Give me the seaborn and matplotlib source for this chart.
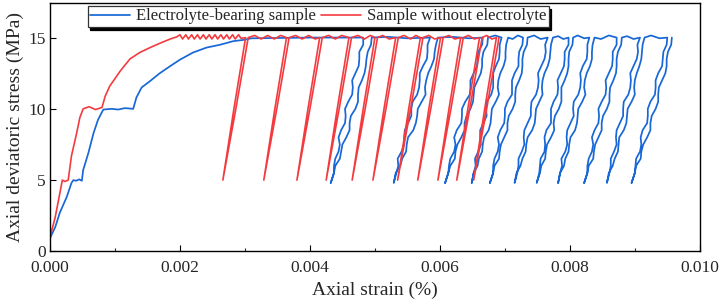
import matplotlib
matplotlib.use("Agg")
import matplotlib.pyplot as plt
import numpy as np
import pandas as pd
import seaborn as sns

sns.set_theme(style="ticks")
plt.rcParams['font.family'] = ['Liberation Serif', 'DejaVu Serif']

# strain values are written in units of 1e-3 % (converted when plotted)
STRAIN_UNIT = 1e-3

# ---- electrolyte-bearing sample (blue) ----
blue_load_x = [0.00, 0.08, 0.15, 0.26, 0.33, 0.36, 0.40, 0.45, 0.49, 0.51, 0.59, 0.67, 0.74, 0.82,
               0.95, 1.05, 1.15, 1.28, 1.33, 1.41, 1.54, 1.69, 1.85, 2.00, 2.20, 2.41, 2.62, 2.82,
               3.00, 3.10, 4.00]
blue_load_y = [0.92, 1.70, 2.70, 3.85, 4.80, 5.00, 4.95, 5.05, 4.95, 5.70, 6.90, 8.30, 9.25, 9.95,
               10.00, 9.95, 10.05, 10.00, 10.80, 11.50, 11.95, 12.50, 13.00, 13.45, 13.95, 14.30, 14.50, 14.75,
               14.85, 14.95, 15.00]

# stress levels of the unload branch (15 -> 5); the reload branch runs back up
blue_levels = [15, 14.5, 14, 13.5, 13, 12.5, 12, 11.5, 11, 10.5, 10,
               9.5, 9, 8.5, 8, 7.5, 7, 6.5, 6, 5.5, 4.8]
blue_unload = [
    [4.82, 4.82, 4.76, 4.76, 4.75, 4.70, 4.65, 4.66, 4.65, 4.59, 4.54, 4.55, 4.54, 4.48, 4.44, 4.46, 4.44, 4.39, 4.37, 4.37, 4.32],
    [5.85, 5.81, 5.81, 5.80, 5.74, 5.69, 5.69, 5.68, 5.65, 5.58, 5.56, 5.56, 5.51, 5.46, 5.45, 5.45, 5.41, 5.35, 5.36, 5.33, 5.29],
    [6.66, 6.65, 6.59, 6.58, 6.57, 6.52, 6.47, 6.47, 6.46, 6.39, 6.34, 6.34, 6.33, 6.26, 6.22, 6.24, 6.22, 6.16, 6.14, 6.13, 6.08],
    [6.95, 6.92, 6.92, 6.91, 6.86, 6.82, 6.82, 6.82, 6.79, 6.72, 6.71, 6.72, 6.67, 6.62, 6.62, 6.63, 6.59, 6.54, 6.55, 6.52, 6.49],
    [7.28, 7.27, 7.22, 7.21, 7.21, 7.15, 7.11, 7.11, 7.11, 7.04, 7.00, 7.00, 6.99, 6.93, 6.89, 6.91, 6.89, 6.84, 6.82, 6.82, 6.77],
    [7.66, 7.62, 7.63, 7.61, 7.56, 7.51, 7.52, 7.51, 7.48, 7.41, 7.40, 7.40, 7.35, 7.30, 7.29, 7.30, 7.26, 7.21, 7.21, 7.19, 7.15],
    [7.98, 7.98, 7.92, 7.92, 7.91, 7.86, 7.81, 7.82, 7.81, 7.75, 7.71, 7.71, 7.71, 7.64, 7.61, 7.62, 7.61, 7.55, 7.54, 7.53, 7.49],
    [8.30, 8.27, 8.27, 8.26, 8.20, 8.16, 8.17, 8.16, 8.13, 8.06, 8.05, 8.06, 8.01, 7.96, 7.95, 7.96, 7.93, 7.87, 7.88, 7.85, 7.82],
    [8.72, 8.72, 8.66, 8.66, 8.65, 8.60, 8.55, 8.56, 8.55, 8.49, 8.44, 8.45, 8.44, 8.38, 8.34, 8.36, 8.34, 8.29, 8.27, 8.27, 8.22],
    [9.08, 9.04, 9.05, 9.03, 8.98, 8.93, 8.94, 8.93, 8.90, 8.83, 8.82, 8.82, 8.77, 8.72, 8.71, 8.72, 8.68, 8.63, 8.63, 8.61, 8.57],
    [9.50, 9.49, 9.44, 9.43, 9.42, 9.36, 9.32, 9.32, 9.31, 9.24, 9.20, 9.20, 9.19, 9.12, 9.09, 9.10, 9.08, 9.02, 9.01, 9.00, 8.95],
]
blue_reload = [
    [4.32, 4.37, 4.39, 4.46, 4.48, 4.50, 4.56, 4.61, 4.61, 4.63, 4.70, 4.74, 4.74, 4.75, 4.80, 4.84, 4.86, 4.87, 4.89, 4.94, 4.95],
    [5.29, 5.32, 5.39, 5.42, 5.48, 5.49, 5.51, 5.59, 5.63, 5.65, 5.66, 5.72, 5.78, 5.77, 5.79, 5.82, 5.87, 5.91, 5.92, 5.94, 5.97],
    [6.08, 6.13, 6.16, 6.23, 6.24, 6.27, 6.33, 6.38, 6.38, 6.41, 6.47, 6.51, 6.52, 6.53, 6.58, 6.63, 6.65, 6.65, 6.67, 6.73, 6.74],
    [6.49, 6.52, 6.58, 6.60, 6.65, 6.66, 6.68, 6.75, 6.78, 6.79, 6.80, 6.86, 6.91, 6.89, 6.90, 6.93, 6.98, 7.01, 7.01, 7.02, 7.05],
    [6.77, 6.82, 6.84, 6.91, 6.92, 6.94, 6.99, 7.04, 7.04, 7.06, 7.12, 7.16, 7.16, 7.17, 7.22, 7.26, 7.27, 7.27, 7.29, 7.34, 7.35],
    [7.15, 7.18, 7.24, 7.27, 7.32, 7.33, 7.35, 7.42, 7.46, 7.47, 7.48, 7.53, 7.58, 7.57, 7.58, 7.61, 7.66, 7.69, 7.70, 7.71, 7.74],
    [7.49, 7.54, 7.56, 7.62, 7.63, 7.65, 7.71, 7.76, 7.75, 7.77, 7.83, 7.87, 7.87, 7.87, 7.92, 7.96, 7.98, 7.98, 7.99, 8.04, 8.05],
    [7.82, 7.85, 7.91, 7.93, 7.98, 7.99, 8.01, 8.08, 8.11, 8.12, 8.13, 8.19, 8.24, 8.22, 8.23, 8.26, 8.31, 8.34, 8.34, 8.35, 8.38],
    [8.22, 8.27, 8.29, 8.36, 8.37, 8.39, 8.44, 8.49, 8.49, 8.51, 8.57, 8.61, 8.61, 8.62, 8.67, 8.71, 8.72, 8.72, 8.74, 8.79, 8.80],
    [8.57, 8.60, 8.66, 8.69, 8.74, 8.75, 8.76, 8.83, 8.87, 8.88, 8.89, 8.95, 9.00, 8.99, 9.00, 9.03, 9.07, 9.10, 9.11, 9.12, 9.15],
    [8.95, 9.00, 9.02, 9.09, 9.10, 9.13, 9.19, 9.24, 9.24, 9.26, 9.32, 9.36, 9.36, 9.37, 9.42, 9.47, 9.49, 9.49, 9.51, 9.56, 9.57],
]
# stress hold at 15 MPa after each cycle
blue_hold_x = [[5.20, 5.50], [6.20, 6.45], [6.85], [7.12, 7.20], [7.45, 7.55], [7.82, 7.90],
               [8.12, 8.22], [8.48, 8.60], [8.88, 8.98], [9.25, 9.38], []]
blue_hold_y = [[15.05, 14.95], [15.05, 14.95], [15.15], [14.90, 15.15], [15.15, 14.90], [15.10, 14.90],
               [15.15, 14.95], [14.90, 15.15], [15.10, 14.90], [15.15, 14.95], []]

# ---- sample without electrolyte (red) ----
red_load_x = [0.00, 0.08, 0.13, 0.19, 0.23, 0.28, 0.33, 0.41, 0.46, 0.51, 0.60, 0.70, 0.80,
              0.85, 0.92, 1.08, 1.23, 1.38, 1.54, 1.69, 1.85, 1.95,
              2.00, 2.04, 2.09, 2.13, 2.18, 2.22, 2.27, 2.31, 2.36, 2.40, 2.45, 2.49, 2.54,
              2.58, 2.63, 2.67, 2.72, 2.76, 2.81, 2.85, 2.90, 2.94]
red_load_y = [1.00, 2.40, 3.60, 5.00, 4.90, 5.00, 6.70, 8.30, 9.40, 10.00, 10.15, 9.95, 10.10,
              10.90, 11.60, 12.65, 13.50, 13.95, 14.30, 14.60, 14.90, 15.05,
              15.20, 14.90, 15.20, 14.90, 15.20, 14.90, 15.20, 14.90, 15.20, 14.90, 15.20, 14.90, 15.20,
              14.90, 15.20, 14.90, 15.20, 14.90, 15.20, 14.90, 15.20, 14.95]

red_levels = [15, 10, 5]
red_unload = [
    [3.01, 2.83, 2.66], [3.64, 3.46, 3.29], [4.15, 3.97, 3.80], [4.60, 4.42, 4.25],
    [5.00, 4.82, 4.65], [5.32, 5.14, 4.97], [5.70, 5.52, 5.35], [6.01, 5.83, 5.66],
    [6.32, 6.14, 5.97], [6.61, 6.43, 6.26], [6.87, 6.69, 6.52],
]
red_reload = [
    [2.66, 2.86, 3.05], [3.29, 3.49, 3.68], [3.80, 4.00, 4.19], [4.25, 4.45, 4.64],
    [4.65, 4.85, 5.04], [4.97, 5.17, 5.36], [5.35, 5.55, 5.74], [5.66, 5.86, 6.05],
    [5.97, 6.17, 6.36], [6.26, 6.46, 6.65], [6.52, 6.72, 6.91],
]
red_hold_x = [[3.15, 3.25, 3.35, 3.45, 3.55], [3.78, 3.88, 3.98, 4.08], [4.29, 4.39, 4.49],
              [4.74, 4.84, 4.93], [5.12, 5.22], [5.45, 5.55, 5.63], [5.83, 5.92], [6.14, 6.23],
              [6.44, 6.53], [6.72, 6.80], []]
red_hold_y = [[15.15, 14.90, 15.15, 14.90, 15.15], [15.15, 14.90, 15.15, 14.90], [15.15, 14.90, 15.15],
              [15.15, 14.90, 15.15], [15.15, 14.90], [15.15, 14.90, 15.15], [15.15, 14.90], [15.15, 14.90],
              [15.15, 14.90], [15.15, 14.90], []]


def build_curve(load_x, load_y, unload, reload, levels, hold_x, hold_y, name):
    xs = list(load_x)
    ys = list(load_y)
    for u, r, hx, hy in zip(unload, reload, hold_x, hold_y):
        xs += u + r + hx
        ys += levels + levels[::-1] + hy
    return pd.DataFrame({'strain': np.array(xs) * STRAIN_UNIT, 'stress': ys, 'sample': name})


df_blue = build_curve(blue_load_x, blue_load_y, blue_unload, blue_reload, blue_levels,
                      blue_hold_x, blue_hold_y, 'Electrolyte-bearing sample')
df_red = build_curve(red_load_x, red_load_y, red_unload, red_reload, red_levels,
                     red_hold_x, red_hold_y, 'Sample without electrolyte')

fig = plt.figure(figsize=(7.26, 3.08), dpi=100)
ax = fig.add_axes([0.0689, 0.184, 0.895, 0.805])

sns.lineplot(data=df_blue, x='strain', y='stress', sort=False, estimator=None,
             color='#1767d6', lw=1.25, ax=ax, label='Electrolyte-bearing sample')
sns.lineplot(data=df_red, x='strain', y='stress', sort=False, estimator=None,
             color='#f33b3f', lw=1.2, ax=ax, label='Sample without electrolyte')

ax.set_xlim(0, 0.010)
ax.set_ylim(0, 17.4)
ax.set_xticks([0.000, 0.002, 0.004, 0.006, 0.008, 0.010])
ax.set_xticks([0.001, 0.003, 0.005, 0.007, 0.009], minor=True)
ax.xaxis.set_major_formatter(matplotlib.ticker.FormatStrFormatter('%.3f'))
ax.set_yticks([0, 5, 10, 15])
ax.tick_params(axis='both', which='major', direction='in', length=4, width=0.8,
               labelsize=12.5, color='black')
ax.tick_params(axis='x', which='major', pad=6)
ax.tick_params(axis='y', which='major', pad=3)
ax.tick_params(axis='x', which='minor', direction='in', length=2.5, width=0.8)
ax.set_xlabel('Axial strain (%)', fontsize=14, labelpad=4)
ax.set_ylabel('Axial deviatoric stress (MPa)', fontsize=14, labelpad=3)
for s in ax.spines.values():
    s.set_visible(True)
    s.set_color('black')
    s.set_linewidth(1.0)

leg = ax.legend(loc='upper left', bbox_to_anchor=(0.058, 0.99), borderaxespad=0,
                ncol=2, fontsize=12, frameon=True, fancybox=False, shadow={'color': 'black', 'alpha': 1},
                handlelength=2.4, handletextpad=0.35, columnspacing=0.3, borderpad=0.15)
leg.get_frame().set_edgecolor('#333333')
leg.get_frame().set_linewidth(0.9)

fig.savefig('out.png', dpi=100)
